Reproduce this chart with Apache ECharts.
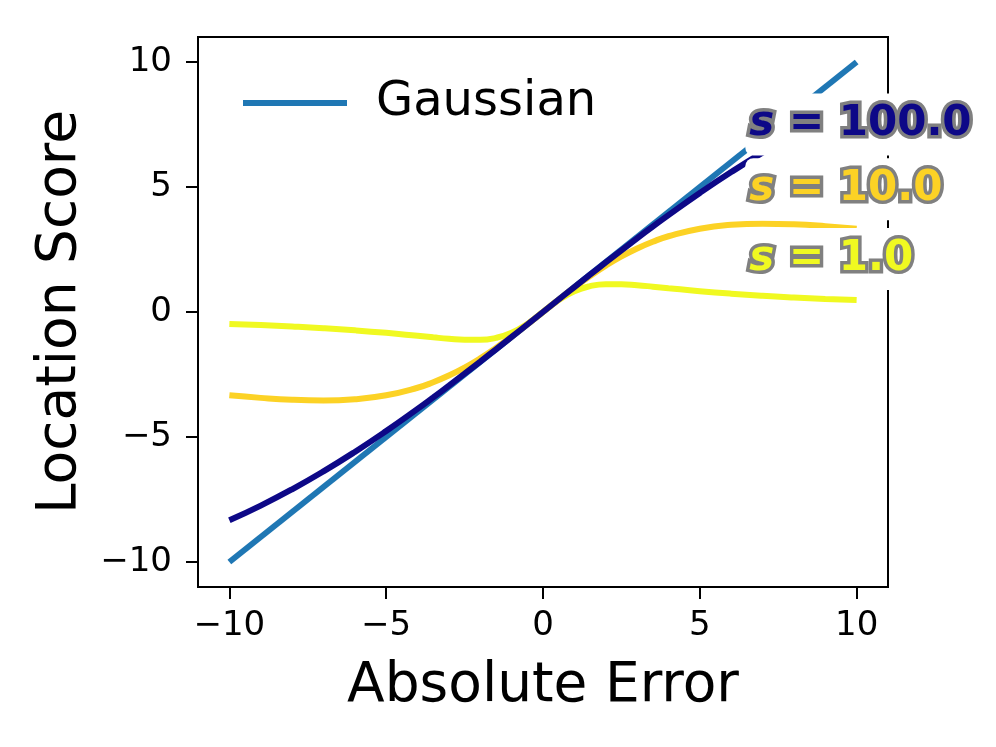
<!DOCTYPE html>
<html>
<head>
<meta charset="utf-8">
<script src="https://cdn.jsdelivr.net/npm/echarts@6/dist/echarts.min.js"></script>
<style>
html, body { margin: 0; padding: 0; background: #fff; }
#chart { width: 996px; height: 747px; }
</style>
</head>
<body>
<div id="chart"></div>
<script>
// values
const xValues = [-10, -9, -8, -7, -6, -5, -4, -3.5, -3, -2.5, -2, -1.5, -1, -0.5, 0,
                 0.5, 1, 1.5, 2, 2.5, 3, 3.5, 4, 5, 6, 7, 8, 9, 10];
const s1Values = [-0.476, -0.523, -0.580, -0.648, -0.732, -0.833, -0.952, -1.014, -1.071, -1.111, -1.111, -1.034, -0.833, -0.476, 0,
                  0.476, 0.833, 1.034, 1.111, 1.111, 1.071, 1.014, 0.952, 0.833, 0.732, 0.648, 0.580, 0.523, 0.476];
const s10Values = [-3.333, -3.435, -3.509, -3.535, -3.488, -3.333, -3.030, -2.811, -2.542, -2.222, -1.852, -1.435, -0.980, -0.498, 0,
                   0.498, 0.980, 1.435, 1.852, 2.222, 2.542, 2.811, 3.030, 3.333, 3.488, 3.535, 3.509, 3.435, 3.333];
const s100Values = [-8.333, -7.745, -7.092, -6.375, -5.597, -4.762, -3.876, -3.416, -2.947, -2.469, -1.984, -1.493, -0.998, -0.5, 0,
                    0.5, 0.998, 1.493, 1.984, 2.469, 2.947, 3.416, 3.876, 4.762, 5.597, 6.375, 7.092, 7.745, 8.333];
const gaussX = [-10, 10];
const gaussY = [-10, 10];
const tickValues = [-10, -5, 0, 5, 10];
const labelTexts = ['100.0', '10.0', '1.0'];

const FONT = '"DejaVu Sans", sans-serif';
const minus = v => String(v).replace('-', '\u2212');
const pairs = (xs, ys) => xs.map((x, i) => [x, ys[i]]);

let chart = echarts.init(document.getElementById('chart'));

function curve(name, ys, color) {
    return {
        name: name,
        type: 'line',
        data: pairs(xValues, ys),
        smooth: true,
        symbol: 'none',
        lineStyle: {color: color, width: 6},
        itemStyle: {color: color}
    };
}

// line labels: white box, gray outline
const labelColors = ['#0d0887', '#fcd225', '#f0f921'];
const labelPos = [[6.45, 7.5], [6.45, 4.91], [6.45, 2.12]];
let labelData = labelPos.map((p, i) => ({
    value: p,
    label: {
        color: labelColors[i],
        rich: {
            s: {fontSize: 42, fontWeight: 'bold', fontStyle: 'italic', fontFamily: FONT, lineHeight: 46,
                color: labelColors[i], textBorderColor: '#808080', textBorderWidth: 7}
        }
    }
}));

chart.setOption({
    animation: false,
    backgroundColor: '#fff',
    grid: {
        left: 198, right: 108, top: 37, bottom: 160,
        show: true, borderColor: '#000', borderWidth: 2
    },
    legend: {
        data: ['Gaussian'],
        left: 238,
        top: 74,
        icon: 'rect',
        itemWidth: 104,
        itemHeight: 6,
        textStyle: {fontSize: 48, fontFamily: FONT, color: '#000', padding: [0, 0, 0, 24]}
    },
    xAxis: {
        type: 'value',
        min: -11, max: 11,
        name: 'Absolute Error',
        nameLocation: 'middle',
        nameGap: 72,
        nameTextStyle: {fontSize: 55, fontFamily: FONT, color: '#000'},
        axisLine: {show: true, onZero: false, lineStyle: {color: '#000', width: 2}},
        axisTick: {show: true, inside: false, length: 12, customValues: tickValues,
                   lineStyle: {color: '#000', width: 2}},
        axisLabel: {customValues: tickValues, fontSize: 34, fontFamily: FONT, color: '#000',
                    margin: 22, formatter: minus},
        splitLine: {show: false}
    },
    yAxis: {
        type: 'value',
        min: -11, max: 11,
        name: 'Location Score',
        nameLocation: 'middle',
        nameGap: 110,
        nameTextStyle: {fontSize: 55, fontFamily: FONT, color: '#000'},
        axisLine: {show: true, onZero: false, lineStyle: {color: '#000', width: 2}},
        axisTick: {show: true, inside: false, length: 12, customValues: tickValues,
                   lineStyle: {color: '#000', width: 2}},
        axisLabel: {customValues: tickValues, fontSize: 34, fontFamily: FONT, color: '#000',
                    margin: 26, formatter: minus},
        splitLine: {show: false}
    },
    series: [
        {
            name: 'Gaussian',
            type: 'line',
            data: pairs(gaussX, gaussY),
            symbol: 'none',
            lineStyle: {color: '#1f77b4', width: 6},
            itemStyle: {color: '#1f77b4'}
        },
        curve('s1', s1Values, '#f0f921'),
        curve('s10', s10Values, '#fcd225'),
        curve('s100', s100Values, '#0d0887'),
        {
            name: 'labels',
            type: 'scatter',
            z: 20,
            symbolSize: 0,
            silent: true,
            itemStyle: {opacity: 1},
            data: labelData,
            label: {
                show: true,
                opacity: 1,
                position: 'right',
                distance: 0,
                align: 'left',
                verticalAlign: 'middle',
                formatter: p => '{s|s} = ' + labelTexts[p.dataIndex],
                fontSize: 42, fontWeight: 'bold', fontFamily: FONT, lineHeight: 46,
                textBorderColor: '#808080', textBorderWidth: 7,
                backgroundColor: '#fff', padding: [8, 6, 8, 4], borderRadius: 8
            }
        }
    ]
});
</script>
</body>
</html>
